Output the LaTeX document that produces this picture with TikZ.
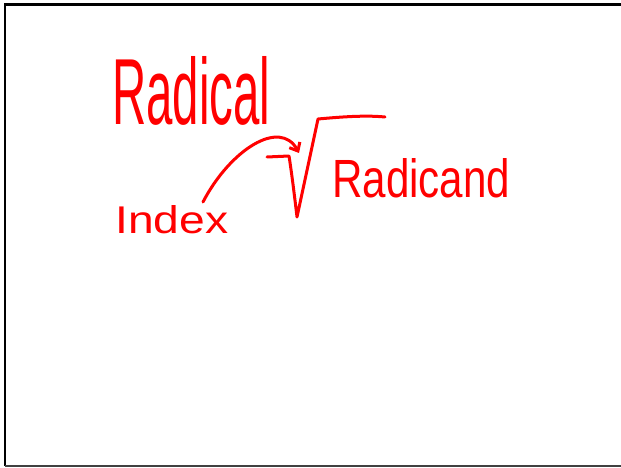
\documentclass[tikz,border=0pt]{standalone}
\usepackage{fontspec}
\setmainfont{Liberation Sans}
\usetikzlibrary{arrows.meta}
\begin{document}
\begin{tikzpicture}[x=1pt,y=-1pt,
  ink/.style={draw=red, line width=3pt, line cap=round, line join=round},
  word/.style={text=red, inner sep=0pt, anchor=north west}]
\useasboundingbox (0,0) rectangle (621,468);
\fill[white] (0,0) rectangle (621,468);
\draw[line width=2.6pt] (621,4.5) -- (5,4.5) -- (5,466);
\draw[line width=2pt, black!75] (5,466) -- (621,466);
\node[word] (radical) at (112,56) {\resizebox{158pt}{68pt}{Radical}};
\node[word] (index) at (115,205) {\resizebox{113pt}{28pt}{Index}};
\node[word] (radicand) at (332,158) {\resizebox{178pt}{39pt}{Radicand}};
% radical sign
\draw[ink] (267,157) -- (289,156) .. controls (292,175) and (295,200) .. (297,217) -- (318,119) .. controls (340,117) and (365,115) .. (385,117);
% arrow from index to the radical sign
\coordinate (from) at (203,202);
\coordinate (tip) at (299,153);
\draw[ink, -{Straight Barb[length=7pt,width=12pt]}] (from) .. controls (230,150) and (280,118) .. (tip);
\end{tikzpicture}
\end{document}
